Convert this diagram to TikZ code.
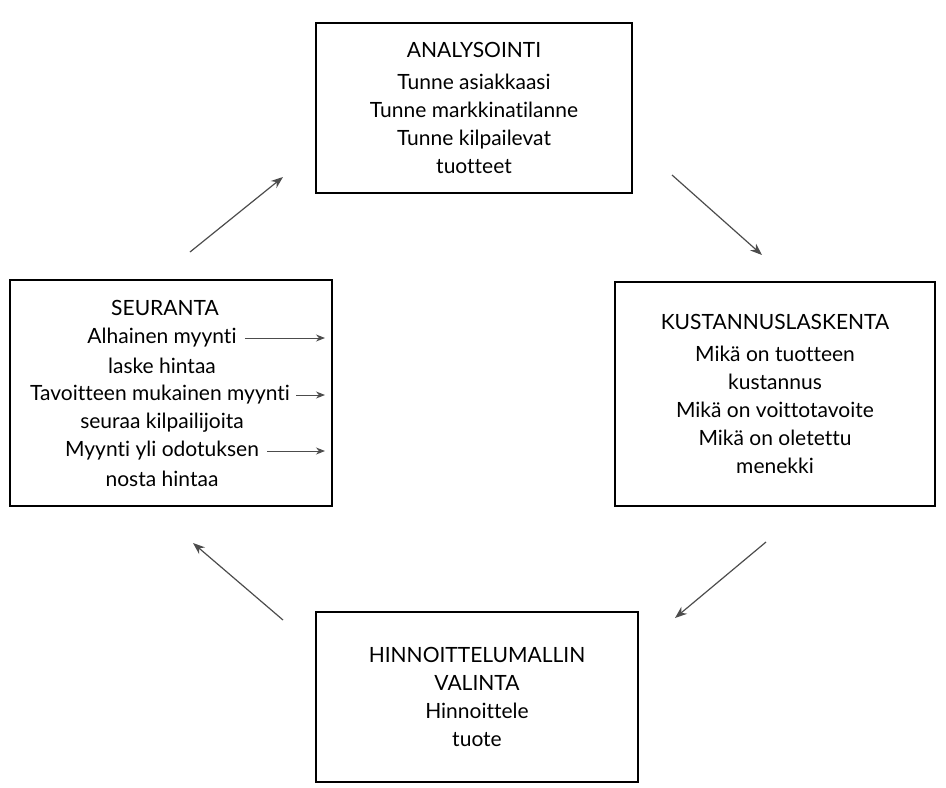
\documentclass[tikz,border=0pt]{standalone}
\usepackage{fontspec}
\setmainfont{Lato}[Ligatures=NoCommon]
\usetikzlibrary{arrows.meta,positioning}

\begin{document}
\begin{tikzpicture}[x=0.5pt,y=-0.5pt,
  font=\fontsize{10.5}{14}\selectfont,
  box/.style={draw,line width=1.2pt,align=center,inner sep=0pt},
  loop/.style={-{Stealth[length=6pt,width=4.5pt]},line width=0.6pt,black!70},
  hint/.style={-{Stealth[length=4.5pt,width=3.5pt]},line width=0.5pt,black!70},
  row/.style={inner sep=0pt}]
  \useasboundingbox (0,0) rectangle (946,787);
  \node[box,minimum width=158pt,minimum height=85pt](ana) at (474,108)
    {ANALYSOINTI\\[2pt]Tunne asiakkaasi\\Tunne markkinatilanne\\Tunne kilpailevat\\tuotteet};
  \node[box,minimum width=160pt,minimum height=112pt](kus) at (775,394)
    {KUSTANNUSLASKENTA\\[2pt]Mikä on tuotteen\\kustannus\\Mikä on voittotavoite\\Mikä on oletettu\\menekki};
  \node[box,minimum width=161pt,minimum height=85pt](hin) at (477,697)
    {HINNOITTELUMALLIN\\VALINTA\\Hinnoittele\\tuote};
  \node[box,minimum width=161pt,minimum height=113pt](seu) at (171,393) {};
  % seurannan rivit
  \node[row](s0) at (165,308) {SEURANTA};
  \node[row](s1) at (162,338) {Alhainen myynti};
  \node[row](s2) at (162,366) {laske hintaa};
  \node[row](s3) at (160,395) {Tavoitteen mukainen myynti};
  \node[row](s4) at (162,423) {seuraa kilpailijoita};
  \node[row](s5) at (162,451) {Myynti yli odotuksen};
  \node[row](s6) at (162,479) {nosta hintaa};
  \coordinate (e1) at (325,338);
  \coordinate (e3) at (325,395);
  \coordinate (e5) at (325,451);
  \draw[hint] ([xshift=4pt]s1.east) -- (e1);
  \draw[hint] ([xshift=3pt]s3.east) -- (e3);
  \draw[hint] ([xshift=4pt]s5.east) -- (e5);
  % kierto
  \coordinate (a1) at (190,252); \coordinate (a2) at (283,177);
  \coordinate (b1) at (672,175); \coordinate (b2) at (762,255);
  \coordinate (c1) at (766,542); \coordinate (c2) at (675,618);
  \coordinate (d1) at (283,620); \coordinate (d2) at (193,543);
  \draw[loop] (a1) -- (a2);
  \draw[loop] (b1) -- (b2);
  \draw[loop] (c1) -- (c2);
  \draw[loop] (d1) -- (d2);
\end{tikzpicture}
\end{document}
